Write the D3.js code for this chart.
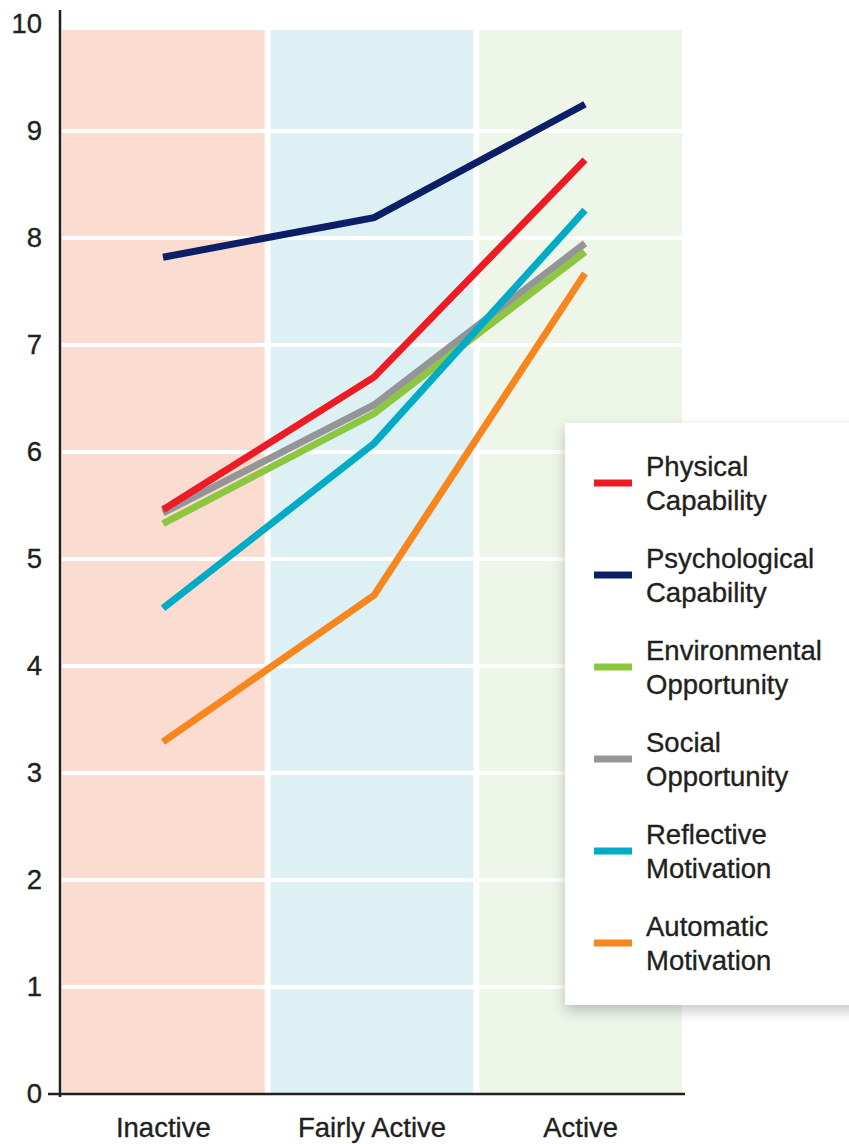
<!DOCTYPE html>
<html>
<head>
<meta charset="utf-8">
<script src="https://cdn.jsdelivr.net/npm/d3@7"></script>
<style>
  body { margin: 0; background: #fff; }
  text { font-family: "Liberation Sans", Arial, Helvetica, sans-serif; fill: #231f20; stroke: #231f20; stroke-width: 0.35px; }
</style>
</head>
<body>
<script>
// data
var categories = ["Inactive", "Fairly Active", "Active"];
var yTicks = [0, 1, 2, 3, 4, 5, 6, 7, 8, 9, 10];

var physical      = [5.46, 6.70, 8.73];
var psychological = [7.82, 8.19, 9.25];
var environmental = [5.33, 6.36, 7.87];
var social        = [5.43, 6.44, 7.95];
var reflective    = [4.54, 6.08, 8.26];
var automatic     = [3.29, 4.66, 7.67];

var legendNames = [
  ["Physical", "Capability"],
  ["Psychological", "Capability"],
  ["Environmental", "Opportunity"],
  ["Social", "Opportunity"],
  ["Reflective", "Motivation"],
  ["Automatic", "Motivation"]
];

var series = [
  { name: "Physical Capability",      values: physical,      color: "#ed1c24", legend: 0 },
  { name: "Psychological Capability", values: psychological, color: "#0c1f66", legend: 1 },
  { name: "Environmental Opportunity",values: environmental, color: "#8dc63f", legend: 2 },
  { name: "Social Opportunity",       values: social,        color: "#939598", legend: 3 },
  { name: "Reflective Motivation",    values: reflective,    color: "#00abc5", legend: 4 },
  { name: "Automatic Motivation",     values: automatic,     color: "#f7861f", legend: 5 }
];
var drawOrder = [3, 2, 4, 0, 5, 1];
var bandColors = ["#fbdcd0", "#ddf0f3", "#eef6ea"];

var width = 849, height = 1144;
var fontSize = "27.5px";

var svg = d3.select("body").append("svg")
  .attr("width", width)
  .attr("height", height);

var defs = svg.append("defs");
var shadow = defs.append("filter").attr("id", "shadow")
  .attr("x", "-20%").attr("y", "-10%").attr("width", "140%").attr("height", "130%");
shadow.append("feDropShadow")
  .attr("dx", 0).attr("dy", 6).attr("stdDeviation", 7)
  .attr("flood-color", "#000").attr("flood-opacity", 0.22);

var y = d3.scaleLinear().domain([0, 10]).range([1094, 24]);
var band = d3.scaleBand().domain(categories).range([62, 682]).paddingInner(0.029);
var x = d3.scalePoint().domain(categories).range([163, 585]);

// background bands
svg.append("g").selectAll("rect")
  .data(categories)
  .enter()
  .append("rect")
  .attr("x", function(d){ return band(d); })
  .attr("y", 30)
  .attr("width", band.bandwidth())
  .attr("height", y(0) - 30)
  .style("fill", function(d, i){ return bandColors[i]; });

// white grid lines
svg.append("g").selectAll("line")
  .data(yTicks.filter(function(t){ return t > 0 && t < 10; }))
  .enter()
  .append("line")
  .attr("x1", 62).attr("x2", 682)
  .attr("y1", function(d){ return y(d); })
  .attr("y2", function(d){ return y(d); })
  .style("stroke", "#fff")
  .style("stroke-width", 4);

// lines
var line = d3.line()
  .x(function(d, i){ return x(categories[i]); })
  .y(function(d){ return y(d); });

svg.append("g").selectAll("path")
  .data(drawOrder.map(function(i){ return series[i]; }))
  .enter()
  .append("path")
  .attr("d", function(d){ return line(d.values); })
  .style("fill", "none")
  .style("stroke", function(d){ return d.color; })
  .style("stroke-width", 7)
  .style("stroke-linejoin", "miter");

// y axis
var yAxis = svg.append("g")
  .attr("transform", "translate(60,0)")
  .call(d3.axisLeft(y).tickValues(yTicks).tickSize(0).tickPadding(18));
yAxis.select(".domain").remove();
yAxis.selectAll("text")
  .style("font-size", fontSize)
  .style("font-family", "'Liberation Sans', Arial, sans-serif")
  .style("fill", "#231f20");

svg.append("line")
  .attr("x1", 60).attr("x2", 60)
  .attr("y1", 10).attr("y2", 1097)
  .style("stroke", "#231f20").style("stroke-width", 2.5);
svg.append("line")
  .attr("x1", 48).attr("x2", 685)
  .attr("y1", y(0)).attr("y2", y(0))
  .style("stroke", "#231f20").style("stroke-width", 2.5);

// x labels, centred on the bands
var xAxis = svg.append("g")
  .attr("transform", "translate(0," + y(0) + ")")
  .call(d3.axisBottom(band).tickSize(0).tickPadding(23));
xAxis.select(".domain").remove();
xAxis.selectAll("text")
  .style("font-size", fontSize)
  .style("font-family", "'Liberation Sans', Arial, sans-serif")
  .style("fill", "#231f20");

// legend
var legend = svg.append("g");
legend.append("rect")
  .attr("x", 565).attr("y", 423)
  .attr("width", 300).attr("height", 582)
  .style("fill", "#fff")
  .attr("filter", "url(#shadow)");

var items = legend.selectAll("g.item")
  .data(series)
  .enter()
  .append("g")
  .attr("class", "item")
  .attr("transform", function(d){ return "translate(0," + (483 + d.legend * 92) + ")"; });

items.append("line")
  .attr("x1", 594).attr("x2", 632)
  .attr("y1", 0).attr("y2", 0)
  .style("stroke", function(d){ return d.color; })
  .style("stroke-width", 7);

items.append("text")
  .attr("x", 646)
  .attr("y", -7)
  .style("font-size", fontSize)
  .text(function(d){ return legendNames[d.legend][0]; });
items.append("text")
  .attr("x", 646)
  .attr("y", 27)
  .style("font-size", fontSize)
  .text(function(d){ return legendNames[d.legend][1]; });
</script>
</body>
</html>
